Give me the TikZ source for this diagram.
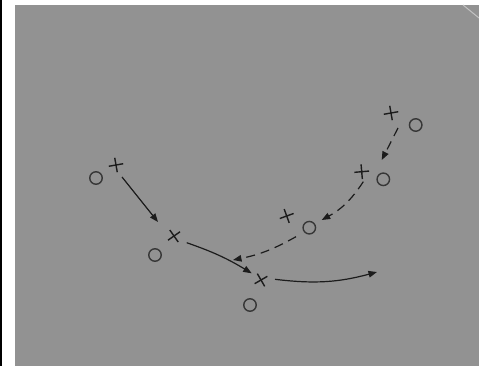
\documentclass[tikz,border=0pt]{standalone}
\usetikzlibrary{shapes.misc,arrows.meta}
\definecolor{paper}{RGB}{146,146,146}
\definecolor{ink}{RGB}{28,28,28}
\definecolor{pen}{RGB}{55,55,55}
\begin{document}
\begin{tikzpicture}[x=1pt,y=1pt,
    omark/.style={draw=pen, line width=1.4pt, circle, minimum size=12.5pt, inner sep=0pt},
    xmark/.style={draw=ink, line width=1.4pt, cross out, minimum size=9pt, inner sep=0pt},
    run/.style={draw=ink, line width=1.2pt, -{Triangle[length=8.5pt,width=6.5pt]}},
    cover/.style={run, dash pattern=on 9pt off 6pt}]
    \fill[white] (0,0) rectangle (479,-366);
    \useasboundingbox (0,0) rectangle (479,-366);
    \fill[black] (0,0) rectangle (2,-366);
    \fill[paper] (15,-5) rectangle (479,-366);
    \draw[white!45!paper, line width=1pt] (463,-5) -- (479,-18);
    \node[omark] (o1) at (96,-178) {};
    \node[xmark, rotate=55] (x1) at (116,-165) {};
    \node[xmark, rotate=80] (x2) at (174,-236) {};
    \node[omark] (o2) at (155,-255) {};
    \node[xmark, rotate=75] (x3) at (261,-280) {};
    \node[omark] (o3) at (250,-305) {};
    \node[xmark, rotate=55] (x4) at (391,-113) {};
    \node[omark] (o4) at (415.7,-125) {};
    \node[xmark, rotate=50] (x5) at (361.7,-171.7) {};
    \node[omark] (o5) at (383.3,-179.3) {};
    \node[xmark, rotate=65] (x6) at (286.7,-216) {};
    \node[omark] (o6) at (309.3,-227.7) {};
    \coordinate (c3) at (377,-272);
    \coordinate (c6) at (233,-260);
    \draw[run] ([shift={(6,-12)}]x1.center) -- ([shift={(-16,14)}]x2.center);
    \draw[run] ([shift={(12.7,-6.7)}]x2.center) to[bend left=6] ([shift={(-9.3,6.7)}]x3.center);
    \draw[run] ([shift={(14,0.7)}]x3.center) to[bend right=11] (c3);
    \draw[cover] ([shift={(-17.7,-3)}]o4.center) -- ([shift={(-1.6,19.3)}]o5.center);
    \draw[cover] ([shift={(-20,-2.4)}]o5.center) to[bend left=14] ([shift={(12.4,7.7)}]o6.center);
    \draw[cover] ([shift={(-13.3,-9)}]o6.center) to[bend left=9] (c6);
\end{tikzpicture}
\end{document}
